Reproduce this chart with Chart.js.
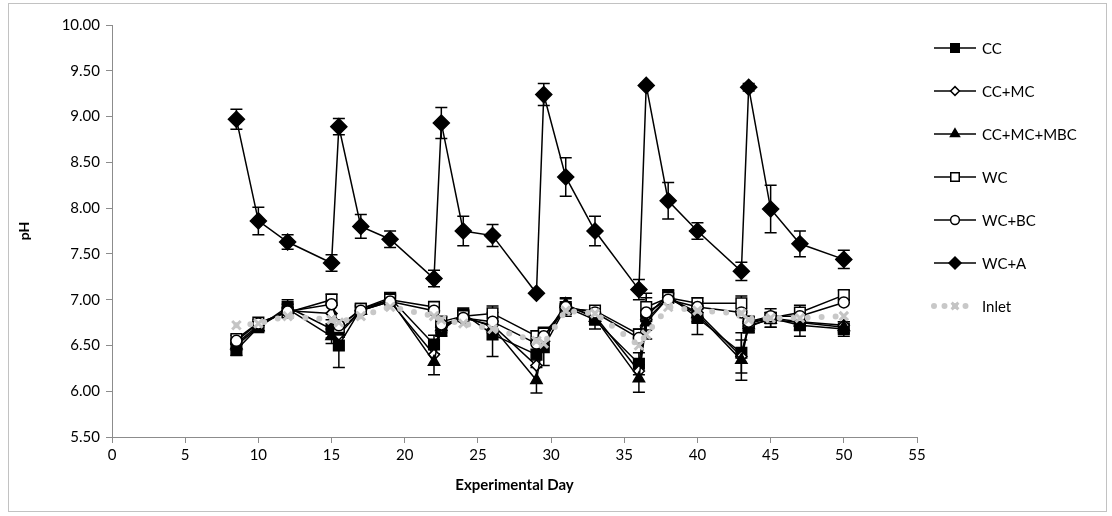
<!DOCTYPE html>
<html>
<head>
<meta charset="utf-8">
<script src="https://cdn.jsdelivr.net/npm/chart.js@4/dist/chart.umd.min.js"></script>
<style>
  html, body { margin: 0; padding: 0; background: #fff; }
  #wrap { width: 1112px; height: 516px; }
</style>
</head>
<body>
<div id="wrap"><canvas id="graficoPH" width="1112" height="516"></canvas></div>
<script>
// Experimental days (x values)
const days = [8.5, 10, 12, 15, 15.5, 17, 19, 22, 22.5, 24, 26, 29, 29.5, 31, 33, 36, 36.5, 38, 40, 43, 43.5, 45, 47, 50];

// pH per treatment
const cc      = [6.45, 6.70, 6.92, 6.68, 6.50, 6.90, 7.02, 6.51, 6.66, 6.85, 6.62, 6.40, 6.48, 6.92, 6.78, 6.30, 6.82, 7.05, 6.80, 6.42, 6.70, 6.80, 6.72, 6.68];
const ccMc    = [6.52, 6.72, 6.88, 6.85, 6.62, 6.88, 6.98, 6.40, 6.70, 6.80, 6.72, 6.28, 6.55, 6.93, 6.82, 6.22, 6.78, 7.02, 6.86, 6.38, 6.74, 6.80, 6.76, 6.72];
const ccMcMbc = [6.50, 6.70, 6.90, 6.60, 6.65, 6.88, 7.00, 6.32, 6.70, 6.82, 6.70, 6.12, 6.58, 6.95, 6.80, 6.14, 6.75, 7.02, 6.84, 6.34, 6.72, 6.78, 6.75, 6.70];
const wc      = [6.57, 6.75, 6.86, 7.00, 6.70, 6.90, 7.00, 6.92, 6.76, 6.82, 6.85, 6.60, 6.63, 6.90, 6.88, 6.62, 6.92, 7.02, 6.96, 6.96, 6.76, 6.80, 6.86, 7.05];
const wcBc    = [6.55, 6.74, 6.87, 6.95, 6.72, 6.88, 6.98, 6.88, 6.73, 6.80, 6.76, 6.52, 6.60, 6.92, 6.86, 6.58, 6.86, 7.00, 6.92, 6.86, 6.76, 6.82, 6.82, 6.97];
const wcA     = [8.97, 7.86, 7.63, 7.40, 8.89, 7.80, 7.66, 7.23, 8.93, 7.75, 7.70, 7.07, 9.24, 8.34, 7.75, 7.11, 9.34, 8.08, 7.75, 7.31, 9.32, 7.99, 7.61, 7.44];
const inlet   = [6.72, 6.74, 6.82, 6.78, 6.75, 6.82, 6.92, 6.82, 6.78, 6.74, 6.68, 6.55, 6.52, 6.88, 6.85, 6.50, 6.62, 6.92, 6.88, 6.85, 6.78, 6.80, 6.80, 6.82];

// standard deviations (error bars)
const errCc      = [0.06, 0.04, 0.08, 0.10, 0.24, 0.04, 0.05, 0.10, 0.06, 0.04, 0.24, 0.12, 0.20, 0.10, 0.10, 0.12, 0.25, 0.05, 0.18, 0.22, 0.06, 0.10, 0.12, 0.08];
const errCcMcMbc = [0.05, 0.04, 0.05, 0.08, 0.06, 0.04, 0.05, 0.14, 0.06, 0.05, 0.06, 0.14, 0.08, 0.06, 0.06, 0.15, 0.08, 0.05, 0.08, 0.22, 0.06, 0.08, 0.08, 0.06];
const errWc      = [0.04, 0.03, 0.05, 0.06, 0.05, 0.03, 0.04, 0.06, 0.05, 0.04, 0.08, 0.06, 0.07, 0.05, 0.05, 0.06, 0.10, 0.04, 0.06, 0.08, 0.05, 0.06, 0.08, 0.05];
const errWcA     = [0.11, 0.15, 0.08, 0.09, 0.09, 0.13, 0.09, 0.09, 0.17, 0.16, 0.12, 0.00, 0.12, 0.21, 0.16, 0.11, 0.02, 0.20, 0.09, 0.10, 0.04, 0.26, 0.14, 0.10];

const xTicks = [0, 5, 10, 15, 20, 25, 30, 35, 40, 45, 50, 55];
const yTicks = [5.5, 6, 6.5, 7, 7.5, 8, 8.5, 9, 9.5, 10];

const fuente = 'Lato, "Open Sans", sans-serif';
const toPoints = vals => vals.map((v, i) => ({ x: days[i], y: v }));

function serie(label, vals, estilo, extra) {
    return Object.assign({
        label: label,
        data: toPoints(vals),
        borderColor: '#000',
        borderWidth: 1.5,
        pointStyle: estilo.style,
        pointRadius: estilo.radius,
        pointBackgroundColor: estilo.fill,
        pointBorderColor: '#000',
        pointBorderWidth: 1.5,
        tension: 0
    }, extra || {});
}

const datasets = [
    serie('CC', cc, { style: 'rect', radius: 7.5, fill: '#000' }, { errores: errCc, order: 7 }),
    serie('CC+MC', ccMc, { style: 'rectRot', radius: 5.5, fill: '#fff' }, { order: 6 }),
    serie('CC+MC+MBC', ccMcMbc, { style: 'triangle', radius: 6.5, fill: '#000' }, { errores: errCcMcMbc, order: 5 }),
    serie('WC', wc, { style: 'rect', radius: 7.5, fill: '#fff' }, { errores: errWc, order: 4 }),
    serie('WC+BC', wcBc, { style: 'circle', radius: 5.5, fill: '#fff' }, { order: 3 }),
    serie('WC+A', wcA, { style: 'rectRot', radius: 8, fill: '#000' }, { errores: errWcA, order: 2 }),
    {
        label: 'Inlet',
        data: toPoints(inlet),
        borderColor: '#c8c8c8',
        borderWidth: 6,
        borderDash: [0, 14],
        borderCapStyle: 'round',
        pointStyle: 'crossRot',
        pointRadius: 6,
        pointBorderColor: '#c4c4c4',
        pointBackgroundColor: '#c4c4c4',
        pointBorderWidth: 3,
        tension: 0,
        order: 1
    }
];

// outer frame like the spreadsheet chart box
const marco = {
    id: 'marco',
    beforeDraw(chart) {
        const { ctx } = chart;
        ctx.save();
        ctx.fillStyle = '#fff';
        ctx.fillRect(0, 0, chart.width, chart.height);
        ctx.strokeStyle = '#c2c2c2';
        ctx.lineWidth = 1;
        ctx.strokeRect(8.5, 3.5, 1098, 508);
        ctx.restore();
    }
};

const barrasError = {
    id: 'barrasError',
    beforeDatasetsDraw(chart) {
        const { ctx, scales } = chart;
        ctx.save();
        ctx.strokeStyle = '#000';
        ctx.lineWidth = 1.5;
        chart.data.datasets.forEach(ds => {
            if (!ds.errores) return;
            ds.data.forEach((p, i) => {
                const e = ds.errores[i];
                if (!e) return;
                const x = scales.x.getPixelForValue(p.x);
                const yTop = scales.y.getPixelForValue(p.y + e);
                const yBot = scales.y.getPixelForValue(p.y - e);
                ctx.beginPath();
                ctx.moveTo(x, yTop); ctx.lineTo(x, yBot);
                ctx.moveTo(x - 6, yTop); ctx.lineTo(x + 6, yTop);
                ctx.moveTo(x - 6, yBot); ctx.lineTo(x + 6, yBot);
                ctx.stroke();
            });
        });
        ctx.restore();
    }
};

// legend drawn Excel style: line - marker - line
const leyenda = {
    id: 'leyenda',
    afterDraw(chart) {
        const { ctx } = chart;
        ctx.save();
        chart.data.datasets.forEach((ds, i) => {
            const y = 48 + i * 43;
            ctx.save();
            ctx.strokeStyle = ds.borderColor;
            ctx.lineWidth = ds.borderWidth;
            ctx.lineCap = ds.borderCapStyle || 'butt';
            ctx.setLineDash(ds.borderDash ? [0, 10.5] : []);
            ctx.beginPath();
            ctx.moveTo(934, y);
            ctx.lineTo(976, y);
            ctx.stroke();
            ctx.restore();

            ctx.fillStyle = ds.pointBackgroundColor;
            ctx.strokeStyle = ds.pointBorderColor;
            ctx.lineWidth = ds.pointBorderWidth;
            ctx.setLineDash([]);
            Chart.helpers.drawPoint(ctx, {
                pointStyle: ds.pointStyle,
                radius: ds.label === 'WC+A' ? 6 : ds.pointRadius * 0.8,
                rotation: 0,
                borderWidth: ds.pointBorderWidth
            }, 955, y);

            ctx.fillStyle = '#000';
            ctx.font = '15px ' + fuente;
            ctx.textAlign = 'left';
            ctx.textBaseline = 'middle';
            ctx.fillText(ds.label, 982, y + 1);
        });
        ctx.restore();
    }
};

new Chart(document.getElementById('graficoPH'), {
    type: 'line',
    data: { datasets: datasets },
    options: {
        responsive: false,
        animation: false,
        layout: { padding: { left: 0, top: 25, right: 195, bottom: 0 } },
        plugins: {
            legend: { display: false },
            tooltip: { enabled: false }
        },
        scales: {
            x: {
                type: 'linear',
                min: 0,
                max: 55,
                afterBuildTicks: axis => { axis.ticks = xTicks.map(v => ({ value: v })); },
                afterFit: scale => { scale.height = 79; },
                grid: { drawOnChartArea: false, color: '#8c8c8c', tickLength: 6 },
                border: { color: '#8c8c8c', width: 1 },
                ticks: {
                    color: '#000',
                    padding: 3,
                    font: { family: fuente, size: 15 }
                },
                title: {
                    display: true,
                    text: 'Experimental Day',
                    color: '#000',
                    font: { family: fuente, size: 15, weight: 'bold' },
                    padding: { top: 0, bottom: 22 }
                }
            },
            y: {
                min: 5.5,
                max: 10,
                afterBuildTicks: axis => { axis.ticks = yTicks.map(v => ({ value: v })); },
                afterFit: scale => { scale.width = 112; },
                grid: { drawOnChartArea: false, color: '#8c8c8c', tickLength: 6 },
                border: { color: '#8c8c8c', width: 1 },
                ticks: {
                    color: '#000',
                    padding: 6,
                    font: { family: fuente, size: 15 },
                    callback: v => Number(v).toFixed(2)
                },
                title: {
                    display: true,
                    text: 'pH',
                    color: '#000',
                    font: { family: fuente, size: 14, weight: 'bold' },
                    padding: { top: 16, bottom: 0 }
                }
            }
        }
    },
    plugins: [marco, barrasError, leyenda]
});
</script>
</body>
</html>
